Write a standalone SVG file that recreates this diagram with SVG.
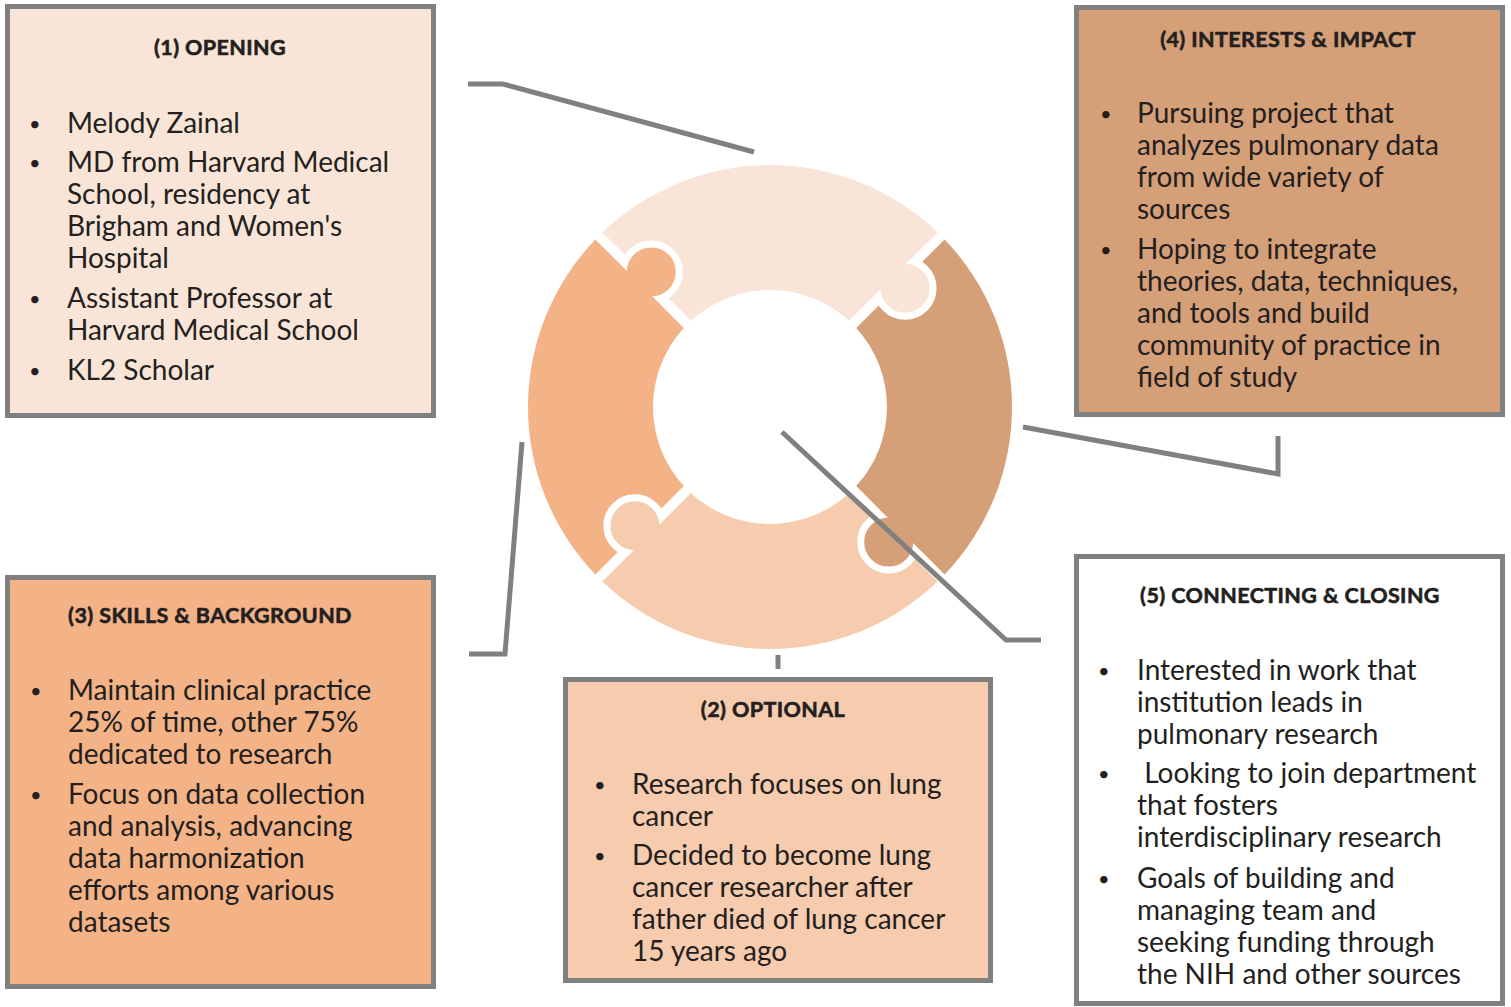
<svg xmlns="http://www.w3.org/2000/svg" width="1511" height="1007" viewBox="0 0 1511 1007">
<style>
.box{stroke:#808080;stroke-width:5}
.t{font-family:"Lato","Noto Sans",sans-serif;font-size:21.5px;font-weight:700;fill:#231F20;stroke:#231F20;stroke-width:0.6;letter-spacing:0.4px;text-anchor:middle}
.b{font-family:"Lato","Noto Sans",sans-serif;font-size:28px;fill:#231F20}
.d{font-family:"Lato","Noto Sans",sans-serif;font-size:20px;fill:#231F20}
.con{fill:none;stroke:#808080;stroke-width:5;stroke-linejoin:miter}
.kn{stroke:#fff;stroke-width:7}
</style>
<defs>
<path id="pTop" d="M 602.45 232.38 A 242 242 0 0 1 937.55 232.38 L 849.12 320.81 A 117 117 0 0 0 690.88 320.81 Z"/>
<path id="pRight" d="M 944.62 239.45 A 242 242 0 0 1 944.62 574.55 L 856.19 486.12 A 117 117 0 0 0 856.19 327.88 Z"/>
<path id="pBottom" d="M 937.55 581.62 A 242 242 0 0 1 602.45 581.62 L 690.88 493.19 A 117 117 0 0 0 849.12 493.19 Z"/>
<path id="pLeft" d="M 595.38 574.55 A 242 242 0 0 1 595.38 239.45 L 683.81 327.88 A 117 117 0 0 0 683.81 486.12 Z"/>
<clipPath id="cTL"><circle cx="651.3" cy="271.9" r="33"/></clipPath>
<clipPath id="cTR"><circle cx="905.1" cy="288.3" r="33"/></clipPath>
<clipPath id="cBR"><circle cx="888.7" cy="542.1" r="33"/></clipPath>
<clipPath id="cBL"><circle cx="634.9" cy="525.7" r="33"/></clipPath>
</defs>
<rect width="1511" height="1007" fill="#fff"/>

<g id="ring">
<use href="#pTop" fill="#F9E5D7"/>
<use href="#pRight" fill="#D5A078"/>
<use href="#pBottom" fill="#F7CBAE"/>
<use href="#pLeft" fill="#F3B386"/>
<circle class="kn" cx="651.3" cy="271.9" r="28" fill="#F3B386"/>
<circle class="kn" cx="905.1" cy="288.3" r="28" fill="#F9E5D7"/>
<circle class="kn" cx="888.7" cy="542.1" r="28" fill="#D5A078"/>
<circle class="kn" cx="634.9" cy="525.7" r="28" fill="#F7CBAE"/>
<use href="#pLeft" fill="#F3B386" clip-path="url(#cTL)"/>
<use href="#pTop" fill="#F9E5D7" clip-path="url(#cTR)"/>
<use href="#pRight" fill="#D5A078" clip-path="url(#cBR)"/>
<use href="#pBottom" fill="#F7CBAE" clip-path="url(#cBL)"/>
</g>

<g id="box1">
<rect class="box" x="7.5" y="6.5" width="426" height="409" fill="#F9E5D7"/>
<text class="t" x="220" y="55">(1) OPENING</text>
<text class="d" x="29" y="131">•</text>
<text class="b" x="67" y="133">Melody Zainal</text>
<text class="d" x="29" y="170">•</text>
<text class="b" x="67" y="172">MD from Harvard Medical</text>
<text class="b" x="67" y="204">School, residency at</text>
<text class="b" x="67" y="236">Brigham and Women's</text>
<text class="b" x="67" y="268">Hospital</text>
<text class="d" x="29" y="306">•</text>
<text class="b" x="67" y="308">Assistant Professor at</text>
<text class="b" x="67" y="340">Harvard Medical School</text>
<text class="d" x="29" y="378">•</text>
<text class="b" x="67" y="380">KL2 Scholar</text>
</g>

<g id="box4">
<rect class="box" x="1076.5" y="7.5" width="426" height="407" fill="#D5A078"/>
<text class="t" x="1288" y="47">(4) INTERESTS &amp; IMPACT</text>
<text class="d" x="1100" y="121">•</text>
<text class="b" x="1137" y="123">Pursuing project that</text>
<text class="b" x="1137" y="155">analyzes pulmonary data</text>
<text class="b" x="1137" y="187">from wide variety of</text>
<text class="b" x="1137" y="219">sources</text>
<text class="d" x="1100" y="257">•</text>
<text class="b" x="1137" y="259">Hoping to integrate</text>
<text class="b" x="1137" y="291">theories, data, techniques,</text>
<text class="b" x="1137" y="323">and tools and build</text>
<text class="b" x="1137" y="355">community of practice in</text>
<text class="b" x="1137" y="387">field of study</text>
</g>

<g id="box3">
<rect class="box" x="7.5" y="577.5" width="426" height="409" fill="#F3B386"/>
<text class="t" x="210" y="623">(3) SKILLS &amp; BACKGROUND</text>
<text class="d" x="30" y="698">•</text>
<text class="b" x="68" y="700">Maintain clinical practice</text>
<text class="b" x="68" y="732">25% of time, other 75%</text>
<text class="b" x="68" y="764">dedicated to research</text>
<text class="d" x="30" y="802">•</text>
<text class="b" x="68" y="804">Focus on data collection</text>
<text class="b" x="68" y="836">and analysis, advancing</text>
<text class="b" x="68" y="868">data harmonization</text>
<text class="b" x="68" y="900">efforts among various</text>
<text class="b" x="68" y="932">datasets</text>
</g>

<g id="box2">
<rect class="box" x="565.5" y="679.5" width="425" height="301" fill="#F7CBAE"/>
<text class="t" x="773" y="717">(2) OPTIONAL</text>
<text class="d" x="594" y="792">•</text>
<text class="b" x="632" y="794">Research focuses on lung</text>
<text class="b" x="632" y="826">cancer</text>
<text class="d" x="594" y="863">•</text>
<text class="b" x="632" y="865">Decided to become lung</text>
<text class="b" x="632" y="897">cancer researcher after</text>
<text class="b" x="632" y="929">father died of lung cancer</text>
<text class="b" x="632" y="961">15 years ago</text>
</g>

<g id="box5">
<rect class="box" x="1076.5" y="556.5" width="426" height="447" fill="#fff"/>
<text class="t" x="1290" y="603">(5) CONNECTING &amp; CLOSING</text>
<text class="d" x="1098" y="678">•</text>
<text class="b" x="1137" y="680">Interested in work that</text>
<text class="b" x="1137" y="712">institution leads in</text>
<text class="b" x="1137" y="744">pulmonary research</text>
<text class="d" x="1098" y="781">•</text>
<text class="b" x="1137" y="783" xml:space="preserve"> Looking to join department</text>
<text class="b" x="1137" y="815">that fosters</text>
<text class="b" x="1137" y="847">interdisciplinary research</text>
<text class="d" x="1098" y="886">•</text>
<text class="b" x="1137" y="888">Goals of building and</text>
<text class="b" x="1137" y="920">managing team and</text>
<text class="b" x="1137" y="952">seeking funding through</text>
<text class="b" x="1137" y="984">the NIH and other sources</text>
</g>

<g id="connectors">
<polyline class="con" points="468,84 503,84 754,152"/>
<polyline class="con" points="522,442 505,654 469,654"/>
<line class="con" x1="778" y1="655" x2="778" y2="669"/>
<polyline class="con" points="1023,427 1278,474 1278,436"/>
<polyline class="con" points="782,432 1006,640 1041,640"/>
</g>
</svg>
